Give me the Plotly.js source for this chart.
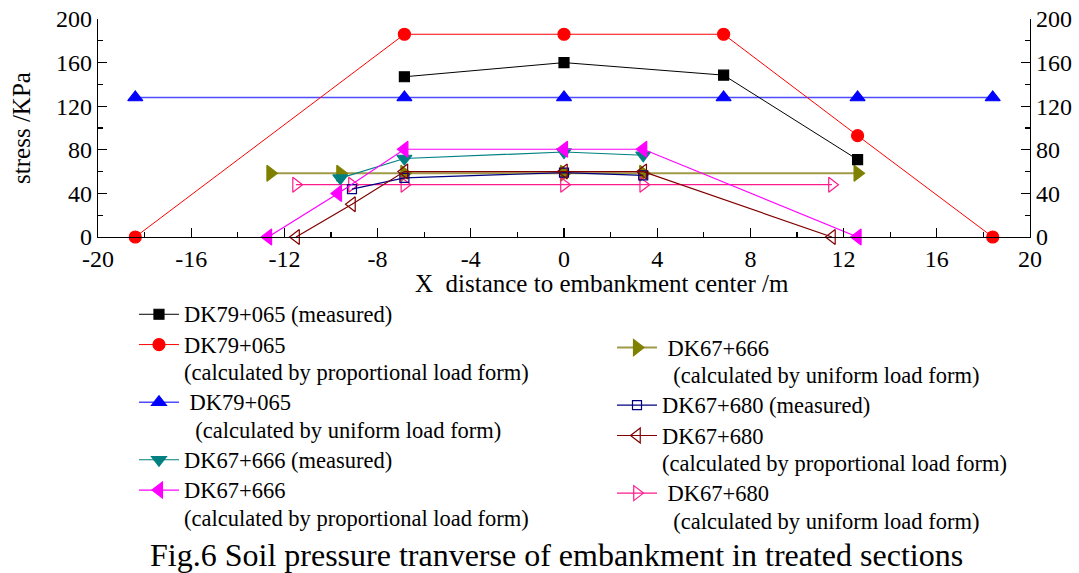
<!DOCTYPE html>
<html>
<head>
<meta charset="utf-8">
<script src="https://cdn.plot.ly/plotly-3.0.1.min.js"></script>
<style>html,body{margin:0;padding:0;background:#fff;}</style>
</head>
<body>
<div id="chart" style="width:1079px;height:573px;"></div>
<script>
// ---- data ----
const xDK79 = [-18.4, -6.85, 0, 6.85, 12.6, 18.4];
const xDK79meas = [-6.85, 0, 6.85, 12.6];
const yDK79meas = [147, 160, 148.5, 71];
const yDK79prop = [0, 186, 186, 186, 93, 0];
const yDK79unif = [128, 128, 128, 128, 128, 128];

const x666meas = [-9.6, -6.85, 0, 3.4];
const y666meas = [54, 72, 78, 75];
const x666prop = [-12.7, -9.7, -6.85, 0, 3.4, 12.6];
const y666prop = [0, 40, 80.5, 80.5, 80.5, 0];
const x666unif = [-12.6, -9.6, -6.85, 0, 3.4, 12.6];
const y666unif = [58.5, 58.5, 58.5, 58.5, 58.5, 58.5];

const x680meas = [-9.1, -6.85, 0, 3.4];
const y680meas = [44, 54.3, 59, 56.5];
const x680prop = [-11.5, -9.1, -6.85, 0, 3.4, 11.5];
const y680prop = [0, 30, 60, 60, 60, 0];
const x680unif = [-11.5, -9.1, -6.85, 0, 3.4, 11.5];
const y680unif = [48, 48, 48, 48, 48, 48];

// tick labels
const xTickVals = [-20, -16, -12, -8, -4, 0, 4, 8, 12, 16, 20];
const xTickText = ['-20', '-16', '-12', '-8', '-4', '0', '4', '8', '12', '16', '20'];

const NB = '\u00a0';
const names = [
  'DK79+065 (measured)',
  'DK79+065<br>(calculated by proportional load form)',
  NB + 'DK79+065<br>' + NB + NB + '(calculated by uniform load form)',
  'DK67+666 (measured)',
  'DK67+666<br>(calculated by proportional load form)',
  NB + 'DK67+666<br>' + NB + NB + '(calculated by uniform load form)',
  'DK67+680 (measured)',
  'DK67+680<br>(calculated by proportional load form)',
  NB + 'DK67+680<br>' + NB + NB + '(calculated by uniform load form)'
];
const xTitle = 'X' + NB + NB + 'distance to embankment center /m';
const yTitle = 'stress /KPa';
const caption = 'Fig.6 Soil pressure tranverse of embankment in treated sections';

const FONT = '"Liberation Serif", "Times New Roman", Times, serif';

// legend text drawn a little larger than the legend's line spacing font
function big(s) {
  return s.split('<br>').map(p => '<span style="font-size:22.5px">' + p + '</span>').join('<br>');
}

function tr(x, y, name, color, lineColor, lw, symbol, size, legend, yaxis) {
  return {
    type: 'scatter', mode: 'lines+markers', x: x, y: y, name: big(name),
    line: {color: lineColor, width: lw},
    marker: {symbol: symbol, size: size, color: color, line: {color: color, width: 1.2}},
    cliponaxis: false, legend: legend, yaxis: yaxis || 'y',
    legendrank: names.indexOf(name) + 1
  };
}

const data = [
  tr(xDK79, yDK79unif, names[2], '#0000ff', '#4d4dff', 1.5, 'triangle-up', 13, 'legend'),
  tr(x666unif, y666unif, names[5], '#808000', '#a09a48', 2, 'triangle-right', 14, 'legend2'),
  tr(x680unif, y680unif, names[8], '#ff1a8c', '#ff1a8c', 1.2, 'triangle-right-open', 13, 'legend2'),
  tr(x680meas, y680meas, names[6], '#000080', '#000080', 1.2, 'square-open', 9, 'legend2'),
  tr(x680prop, y680prop, names[7], '#800000', '#800000', 1.2, 'triangle-left-open', 13, 'legend2'),
  tr(x666meas, y666meas, names[3], '#008080', '#008080', 1.2, 'triangle-down', 13, 'legend'),
  tr(x666prop, y666prop, names[4], '#ff00ff', '#ff00ff', 1.2, 'triangle-left', 14, 'legend'),
  tr(xDK79meas, yDK79meas, names[0], '#000000', '#000000', 1, 'square', 10, 'legend'),
  tr(xDK79, yDK79prop, names[1], '#ff0000', '#ff0000', 1, 'circle', 12, 'legend', 'y2')
];

const axCommon = {
  showline: true, linecolor: '#000', linewidth: 1.3, mirror: false,
  ticks: 'inside', ticklen: 9, tickwidth: 1.3, tickcolor: '#000',
  showgrid: false, zeroline: false,
  tickfont: {family: FONT, size: 24, color: '#000'}
};
const yMinor = {tickmode: 'linear', tick0: 0, dtick: 20, ticks: 'inside', ticklen: 5, tickwidth: 1.3, tickcolor: '#000', showgrid: false};

const layout = {
  width: 1079, height: 573,
  margin: {l: 98, r: 49, t: 19, b: 336, pad: 0},
  paper_bgcolor: '#fff', plot_bgcolor: '#fff',
  font: {family: FONT, color: '#000'},
  showlegend: true,
  xaxis: Object.assign({}, axCommon, {
    range: [-20, 20], tickmode: 'array', tickvals: xTickVals, ticktext: xTickText,
    minor: {tickmode: 'linear', tick0: 0, dtick: 2, ticks: 'inside', ticklen: 5, tickwidth: 1.3, tickcolor: '#000', showgrid: false}
  }),
  yaxis: Object.assign({}, axCommon, {
    range: [0, 200], tick0: 0, dtick: 40, minor: yMinor,
    title: {text: yTitle, font: {family: FONT, size: 25, color: '#000'}, standoff: 18}
  }),
  yaxis2: Object.assign({}, axCommon, {
    range: [0, 200], tick0: 0, dtick: 40, overlaying: 'y', side: 'right', anchor: 'x', minor: yMinor
  }),
  legend: {
    x: 0.0386, y: -0.262, xanchor: 'left', yanchor: 'top', itemwidth: 40,
    bgcolor: 'rgba(0,0,0,0)', borderwidth: 0, valign: 'top', traceorder: 'normal',
    font: {family: FONT, size: 21, color: '#000'}, tracegroupgap: 0
  },
  legend2: {
    x: 0.5515, y: -0.415, xanchor: 'left', yanchor: 'top', itemwidth: 40,
    bgcolor: 'rgba(0,0,0,0)', borderwidth: 0, valign: 'top', traceorder: 'normal',
    font: {family: FONT, size: 21, color: '#000'}, tracegroupgap: 0
  },
  annotations: [
    {
      text: xTitle,
      xref: 'paper', yref: 'paper', x: 0.5408, y: -0.212, xanchor: 'center', yanchor: 'middle',
      showarrow: false, font: {family: FONT, size: 25, color: '#000'}
    },
    {
      text: caption,
      xref: 'paper', yref: 'paper', x: 0.492, y: -1.461, xanchor: 'center', yanchor: 'middle',
      showarrow: false, font: {family: FONT, size: 32, color: '#000'}
    }
  ]
};

Plotly.newPlot('chart', data, layout, {displayModeBar: false, staticPlot: true});
</script>
</body>
</html>
